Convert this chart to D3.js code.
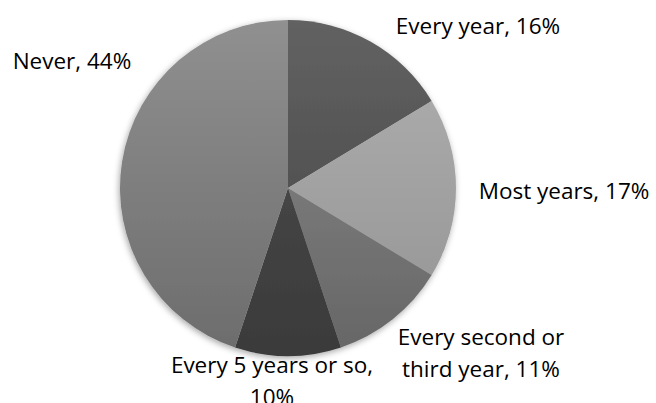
<!DOCTYPE html>
<html>
<head>
<meta charset="utf-8">
<script src="https://cdn.jsdelivr.net/npm/d3@7"></script>
<style>
  html, body { margin: 0; padding: 0; background: #ffffff; }
  svg { display: block; }
  text { font-family: "Open Sans", "DejaVu Sans", sans-serif; fill: #000; }
</style>
</head>
<body>
<svg id="chart" width="656" height="403"></svg>
<script>
// ---- data ----
const categories = ["Every year", "Most years", "Every second or third year", "Every 5 years or so", "Never"];
const values = [16, 17, 11, 10, 44];
const labelLines = [
  ["Every year, 16%"],
  ["Most years, 17%"],
  ["Every second or", "third year, 11%"],
  ["Every 5 years or so,", "10%"],
  ["Never, 44%"]
];

// ---- styles / layout ----
const topColors    = ["#626262", "#b0b0b0", "#8a8a8a", "#505050", "#909090"];
const bottomColors = ["#424242", "#939393", "#666666", "#3a3a3a", "#6c6c6c"];
const width = 656, height = 403;
const cx = 288, cy = 188, R = 168;
const fontSize = 22.5, lineH = 31.5;
// label anchor: offset from arc point at radius R along mid angle
const labelLayout = [
  { x: 478, y: 34, anchor: "middle" },
  { x: 564, y: 199, anchor: "middle" },
  { x: 481, y: 345, anchor: "middle" },
  { x: 272, y: 373, anchor: "middle" },
  { x: 72, y: 69, anchor: "middle" }
];

const svg = d3.select("#chart");
const defs = svg.append("defs");

const filter = defs.append("filter").attr("id", "shadow")
  .attr("x", "-20%").attr("y", "-20%").attr("width", "140%").attr("height", "140%");
filter.append("feDropShadow").attr("dx", -1).attr("dy", 2).attr("stdDeviation", 3)
  .attr("flood-color", "#000").attr("flood-opacity", 0.35);

categories.forEach((c, i) => {
  const g = defs.append("linearGradient").attr("id", "grad" + i)
    .attr("gradientUnits", "userSpaceOnUse")
    .attr("x1", 0).attr("y1", -R).attr("x2", 0).attr("y2", R);
  g.append("stop").attr("offset", "0%").attr("stop-color", topColors[i]);
  g.append("stop").attr("offset", "100%").attr("stop-color", bottomColors[i]);
});

const pie = d3.pie().sort(null).value(d => d)(values);
const arc = d3.arc().innerRadius(0).outerRadius(R);

const gPie = svg.append("g").attr("transform", `translate(${cx},${cy})`)
  .attr("filter", "url(#shadow)");
gPie.selectAll("path").data(pie).join("path")
  .attr("d", arc)
  .attr("fill", (d, i) => `url(#grad${i})`);

const gLab = svg.append("g");
labelLines.forEach((lines, i) => {
  const L = labelLayout[i];
  const t = gLab.append("text")
    .attr("x", L.x).attr("y", L.y)
    .attr("text-anchor", L.anchor)
    .style("font-size", fontSize + "px");
  lines.forEach((ln, j) => {
    t.append("tspan").attr("x", L.x).attr("y", L.y + j * lineH).text(ln);
  });
});
</script>
</body>
</html>
